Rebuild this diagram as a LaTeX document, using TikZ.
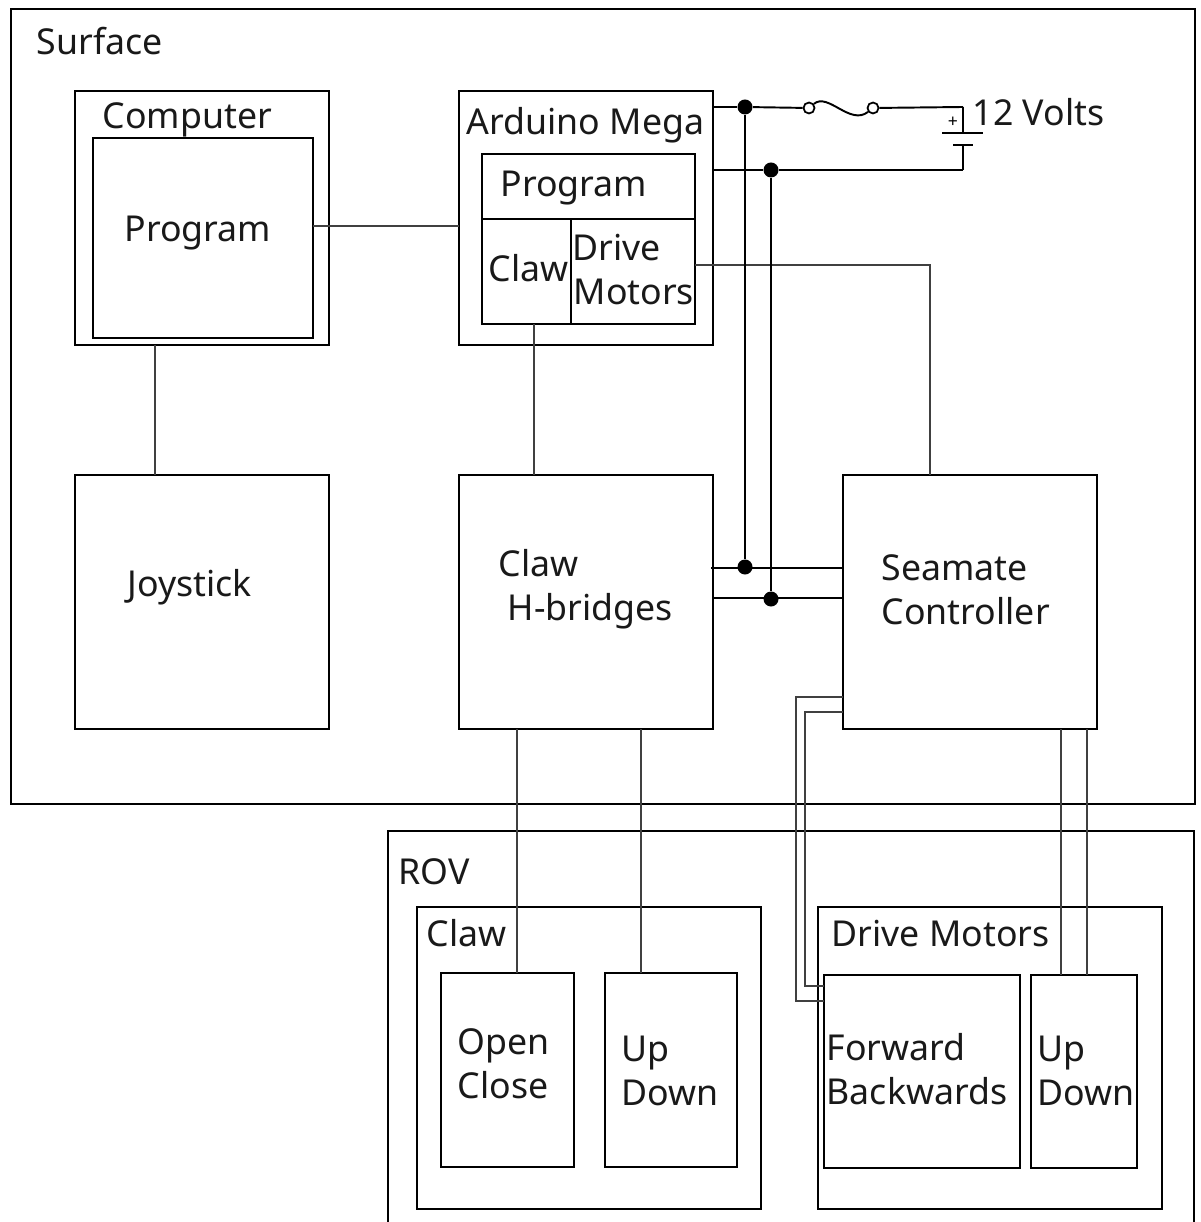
\documentclass[tikz,border=0pt]{standalone}
\usepackage{fontspec}
\setmainfont{Noto Sans}
\usetikzlibrary{calc, fit}

\tikzset{
  box/.style={draw=black, line width=0.62pt, inner sep=0pt, outer sep=0pt, fit={#1}},
  heavybox/.style={box={#1}, line width=0.72pt},
  wire/.style={draw=black!75, line width=0.45pt},
  power/.style={draw=black, line width=0.55pt},
  dot/.style={circle, fill=black, inner sep=0pt, minimum size=0.15cm},
  lamp/.style={circle, draw=black, fill=white, line width=0.5pt, inner sep=0pt, minimum size=0.11cm},
  lbl/.style={anchor=base west, inner sep=0pt, yshift=-0.01cm, font=\fontsize{10.15}{12}\selectfont, text=black!90}
}

\begin{document}
\begin{tikzpicture}[x=0.01cm, y=-0.01cm]

    \useasboundingbox (0,0) rectangle (1201,1222);

    % 1. Boxes of the surface side
    \foreach \name/\xa/\ya/\xb/\yb in {
        surface/11/9/1195/804,
        computer/75/91/329/345,
        arduino/459/91/713/345,
        joystick/75/475/329/729, hbridges/459/475/713/729,
        seamate/843/475/1097/729
    } {
        \node[box={(\xa,\ya) (\xb,\yb)}] (\name) {};
    }
    \foreach \name/\xa/\ya/\xb/\yb in {
        pcprog/93/138/313/338, ardprog/482/154/695/219,
        ardclaw/482/219/571/324, arddrive/571/219/695/324
    } {
        \node[heavybox={(\xa,\ya) (\xb,\yb)}] (\name) {};
    }

    % 2. Boxes of the ROV side
    \draw[black, line width=0.62pt] (388,1222) |- (1194,831) -- (1194,1222);
    \foreach \name/\xa/\ya/\xb/\yb in {
        rovclaw/417/907/761/1209, rovdrive/818/907/1162/1209,
        openclose/441/973/574/1167, clawupdown/605/973/737/1167,
        driveupdown/1031/975/1137/1168
    } {
        \node[box={(\xa,\ya) (\xb,\yb)}] (\name) {};
    }
    \node[heavybox={(824,975) (1020,1168)}] (forward) {};

    % 3. Signal wires
    \draw[wire] (pcprog.east |- 0,226) -- (arduino.west |- 0,226);
    \draw[wire] (computer.south -| 155,0) -- (joystick.north -| 155,0);
    \draw[wire] (ardclaw.south -| 534,0) -- (hbridges.north -| 534,0);
    \draw[wire] (arddrive.east |- 0,265) -| (seamate.north -| 930,0);

    % 4. Wires down to the ROV
    \draw[wire] (hbridges.south -| 517,0) -- (openclose.north -| 517,0);
    \draw[wire] (hbridges.south -| 641,0) -- (clawupdown.north -| 641,0);
    \draw[wire] (seamate.south -| 1061,0) -- (driveupdown.north -| 1061,0);
    \draw[wire] (seamate.south -| 1087,0) -- (driveupdown.north -| 1087,0);
    \draw[wire] (seamate.west |- 0,697) -- (796,697) -- (796,1001) -- (forward.west |- 0,1001);
    \draw[wire] (seamate.west |- 0,712) -- (805,712) -- (805,986) -- (forward.west |- 0,986);

    % 5. Power rails
    \node[dot] (J1) at (745,107) {};
    \node[dot] (J2) at (771,170) {};
    \node[dot] (J3) at (745,567) {};
    \node[dot] (J4) at (771,599) {};
    \coordinate (B1) at (963,107);
    \coordinate (B2) at (963,170);
    \draw[power] (arduino.east |- J1) -- (J1) -- (J3);
    \draw[power] (arduino.east |- J2) -- (J2) -- (J4);
    \draw[power] (711,568) -- (seamate.west |- 0,568);
    \draw[power] (hbridges.east |- 0,598) -- (seamate.west |- 0,598);

    % 6. Fuse
    \node[lamp] (F1) at (809,108) {};
    \node[lamp] (F2) at (873,108) {};
    \draw[power] (J1) -- (F1);
    \draw[power] (F1) .. controls (828,92) and (850,126) .. (F2);
    \draw[power] (F2) -- (B1);

    % 7. Battery
    \coordinate (P1) at (963,133);
    \coordinate (P2) at (963,145);
    \draw[power, line width=0.8pt] (B1) -- (P1);
    \draw[power, line width=0.8pt] (942,133) -- (983,133);
    \draw[power, line width=0.8pt] (953,145) -- (973,145);
    \draw[power, line width=0.8pt] (P2) -- (B2);
    \draw[power] (B2) -- (J2);
    \node[font=\fontsize{5}{6}\selectfont, inner sep=0pt] (plus) at (953,122) {+};

    % 8. Labels
    \foreach \name/\x/\y/\txt in {
        tsurface/36/54/Surface, tcomputer/102/128/Computer, tpcprog/124/241/Program,
        tarduino/466/134/Arduino Mega, tardprog/500/196/Program, tardclaw/488/281/Claw,
        tjoystick/127/595/Joystick, tvolts/972/125/12 Volts,
        trov/398/883/ROV, trovclaw/426/945/Claw, trovdrive/831/945/Drive Motors,
        topen/457/1053/Open, tclose/457/1097/Close,
        tclawup/621/1060/Up, tclawdown/621/1104/Down,
        tforward/826/1059/Forward, tbackwards/826/1103/Backwards,
        tdriveup/1037/1060/Up, tdrivedown/1037/1104/Down,
        tdrive/572/260/Drive, tmotors/573/304/Motors,
        tclawb/498/575/Claw, thb/507/619/H-bridges,
        tseamate/881/579/Seamate, tcontroller/881/623/Controller
    } {
        \node[lbl] (\name) at (\x,\y) {\txt};
    }

\end{tikzpicture}
\end{document}
